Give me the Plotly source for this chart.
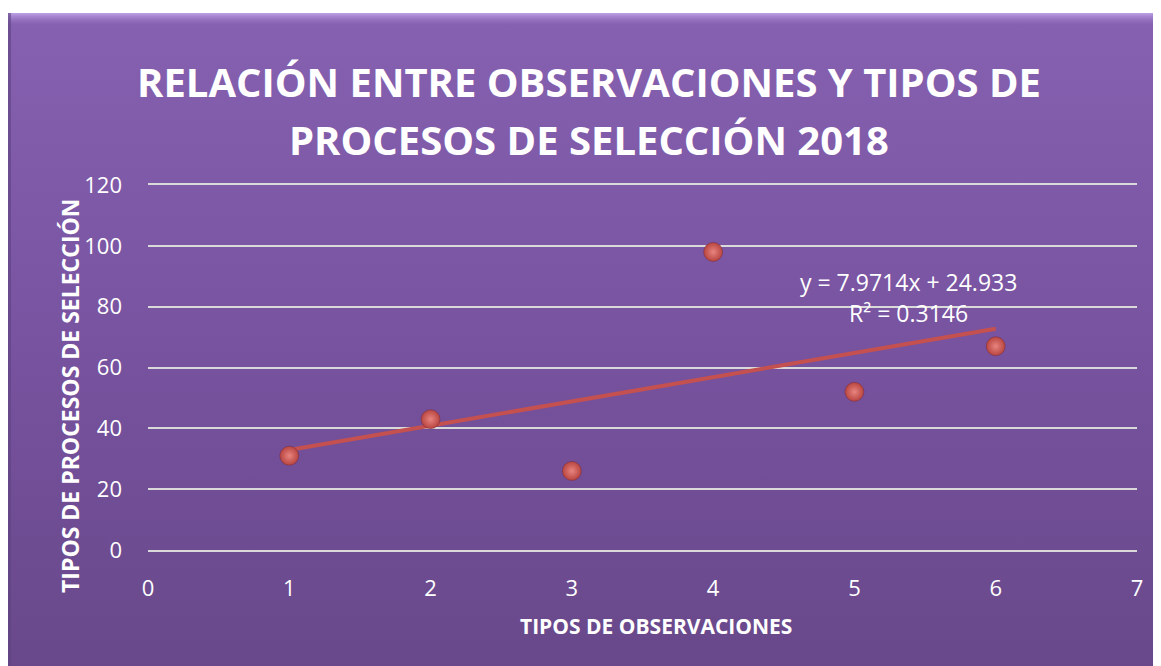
import base64
import numpy as np
import plotly.graph_objects as go

# ---- data ----
tipos_observaciones = [1, 2, 3, 4, 5, 6]
tipos_procesos = [31, 43, 26, 98, 52, 67]
x_ticks = [0, 1, 2, 3, 4, 5, 6, 7]
y_ticks = [0, 20, 40, 60, 80, 100, 120]
title_line1 = "RELACIÓN ENTRE OBSERVACIONES Y TIPOS DE"
title_line2 = "PROCESOS DE SELECCIÓN 2018"
x_title = "TIPOS DE OBSERVACIONES"
y_title = "TIPOS DE PROCESOS DE SELECCIÓN"

# ---- layout geometry (figure pixels; page body adds an 8px offset) ----
OFF = 8
W, H = 1153, 658
ML, MR, MT, MB = 140, 24, 177, 116
PW, PH = W - ML - MR, H - MT - MB


def px(xs):
    """screen x pixel -> paper coordinate"""
    return (xs - OFF - ML) / PW


def py(ys):
    """screen y pixel -> paper coordinate"""
    return (H - MB - (ys - OFF)) / PH


# linear trend
slope, intercept = np.polyfit(tipos_observaciones, tipos_procesos, 1)
pred = np.polyval([slope, intercept], tipos_observaciones)
ss_res = np.sum((np.array(tipos_procesos) - pred) ** 2)
ss_tot = np.sum((np.array(tipos_procesos) - np.mean(tipos_procesos)) ** 2)
r2 = 1 - ss_res / ss_tot
trend_x = [min(tipos_observaciones), max(tipos_observaciones)]
trend_y = list(np.polyval([slope, intercept], trend_x))

fig = go.Figure()
fig.add_trace(go.Scatter(x=trend_x, y=trend_y, mode="lines",
                         line=dict(color="#C4504F", width=4),
                         showlegend=False, hoverinfo="skip"))
fig.add_trace(go.Scatter(x=tipos_observaciones, y=tipos_procesos, mode="markers",
                         marker=dict(size=19, color="#B8443F",
                                     gradient=dict(type="radial", color="#E8847F"),
                                     line=dict(color="rgba(110,40,60,0.55)", width=0.8)),
                         showlegend=False))

# ---- background frame: vertical gradient as an SVG image ----
svg = (
    '<svg xmlns="http://www.w3.org/2000/svg" width="1153" height="653" '
    'preserveAspectRatio="none" viewBox="0 0 1153 653">'
    '<defs><linearGradient id="g" x1="0" y1="0" x2="0" y2="1">'
    '<stop offset="0" stop-color="#8661B1"/>'
    '<stop offset="0.5" stop-color="#7853A0"/>'
    '<stop offset="1" stop-color="#68488A"/>'
    '</linearGradient>'
    '<linearGradient id="t" x1="0" y1="0" x2="0" y2="1">'
    '<stop offset="0" stop-color="#C5A8EC" stop-opacity="0.9"/>'
    '<stop offset="1" stop-color="#9A76C8" stop-opacity="0"/>'
    '</linearGradient></defs>'
    '<rect x="0" y="0" width="1153" height="653" fill="url(#g)"/>'
    '<rect x="0" y="0" width="1153" height="12" fill="url(#t)"/>'
    '<rect x="0" y="0" width="3" height="653" fill="#5E4280" fill-opacity="0.6"/>'
    '</svg>'
)
svg_uri = "data:image/svg+xml;base64," + base64.b64encode(svg.encode()).decode()

images = [dict(source=svg_uri, xref="paper", yref="paper",
               x=px(8), y=py(13), sizex=px(1161) - px(8), sizey=py(13) - py(666),
               xanchor="left", yanchor="top", sizing="stretch", layer="below")]

annotations = [
    dict(text="<b>%s</b>" % title_line1, xref="paper", yref="paper",
         x=px(589), y=py(81), xanchor="center", yanchor="middle", showarrow=False,
         font=dict(family="Open Sans", size=40, color="white")),
    dict(text="<b>%s</b>" % title_line2, xref="paper", yref="paper",
         x=px(589), y=py(139), xanchor="center", yanchor="middle", showarrow=False,
         font=dict(family="Open Sans", size=40, color="white")),
    dict(text="y = %.4fx + %.3f" % (slope, intercept), xref="paper", yref="paper",
         x=px(908), y=py(282), xanchor="center", yanchor="middle", showarrow=False,
         font=dict(family="Open Sans", size=23, color="white")),
    dict(text="R² = %.4f" % r2, xref="paper", yref="paper",
         x=px(908), y=py(313), xanchor="center", yanchor="middle", showarrow=False,
         font=dict(family="Open Sans", size=23, color="white")),
    dict(text="<b>%s</b>" % x_title, xref="paper", yref="paper",
         x=px(656), y=py(626), xanchor="center", yanchor="middle", showarrow=False,
         font=dict(family="Open Sans", size=21, color="white")),
    dict(text="<b>%s</b>" % y_title, xref="paper", yref="paper", textangle=-90,
         x=px(70), y=py(396), xanchor="center", yanchor="middle", showarrow=False,
         font=dict(family="Open Sans", size=23, color="white")),
]

fig.update_layout(
    width=W, height=H,
    margin=dict(l=ML, r=MR, t=MT, b=MB),
    paper_bgcolor="white", plot_bgcolor="rgba(0,0,0,0)",
    images=images, annotations=annotations,
    font=dict(family="Open Sans", color="white"),
    xaxis=dict(range=[0, 7], tickvals=x_ticks, showgrid=False, zeroline=False,
               showline=True, mirror=True, linecolor="#D9D9D9", linewidth=1.5,
               ticks="", ticklabelstandoff=18,
               tickfont=dict(size=22, color="white")),
    yaxis=dict(range=[0, 120], tickvals=y_ticks, showgrid=True,
               gridcolor="#D9D9D9", gridwidth=1.5, zeroline=False,
               showline=False, ticks="", ticklabelstandoff=25,
               tickfont=dict(size=22, color="white")),
)

fig.write_html("out.html")
